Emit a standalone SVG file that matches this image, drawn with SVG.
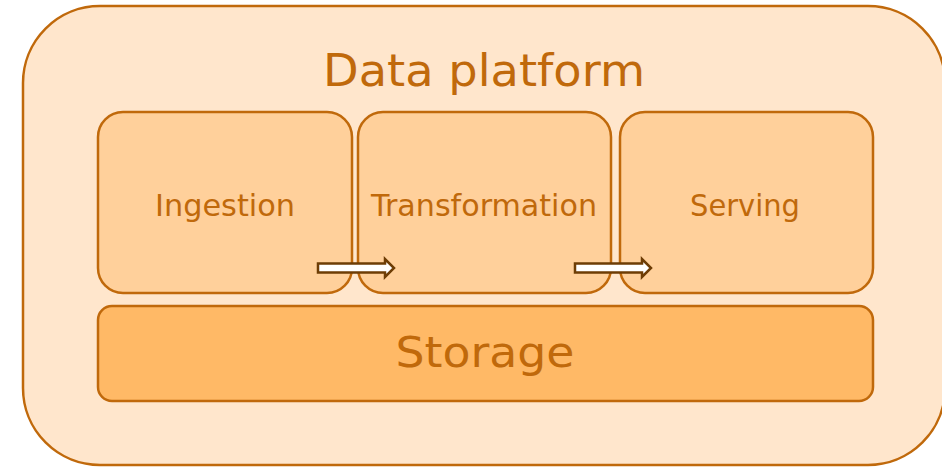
<svg xmlns="http://www.w3.org/2000/svg" width="942" height="467" viewBox="0 0 942 467">
<style>
.lbl{font-family:"DejaVu Sans","Liberation Sans",sans-serif;fill:#C0690B;text-anchor:middle}
.stage{fill:#FFD09B;stroke:#C0690B;stroke-width:2.5}
.arrow{fill:#FFFFFF;stroke:#6E3D05;stroke-width:2.5;stroke-linejoin:miter}
</style>
<rect width="942" height="467" fill="#FFFFFF"/>
<g id="platform">
<rect x="23" y="6" width="922" height="459" rx="77" ry="77" fill="#FFE6CC" stroke="#C0690B" stroke-width="2.5"/>
<text class="lbl" x="484" y="86" font-size="44" textLength="322" lengthAdjust="spacingAndGlyphs">Data platform</text>
</g>
<g id="ingestion">
<rect class="stage" x="98" y="112" width="254" height="181" rx="25" ry="25"/>
<text class="lbl" x="225" y="216" font-size="30" textLength="140" lengthAdjust="spacingAndGlyphs">Ingestion</text>
</g>
<g id="transformation">
<rect class="stage" x="358" y="112" width="253" height="181" rx="25" ry="25"/>
<text class="lbl" x="484" y="216" font-size="30" textLength="226" lengthAdjust="spacingAndGlyphs">Transformation</text>
</g>
<g id="serving">
<rect class="stage" x="620" y="112" width="253" height="181" rx="25" ry="25"/>
<text class="lbl" x="745" y="216" font-size="30" textLength="110" lengthAdjust="spacingAndGlyphs">Serving</text>
</g>
<g id="storage">
<rect x="98" y="306" width="775" height="95" rx="14" ry="14" fill="#FFB966" stroke="#C0690B" stroke-width="2.5"/>
<text class="lbl" x="485" y="367" font-size="42" textLength="179" lengthAdjust="spacingAndGlyphs">Storage</text>
</g>
<g id="connectors">
<path class="arrow" d="M318,263.5 H385 V259 L394,268 L385,277 V272.5 H318 Z"/>
<path class="arrow" d="M575,263.5 H642 V259 L651,268 L642,277 V272.5 H575 Z"/>
</g>
</svg>
